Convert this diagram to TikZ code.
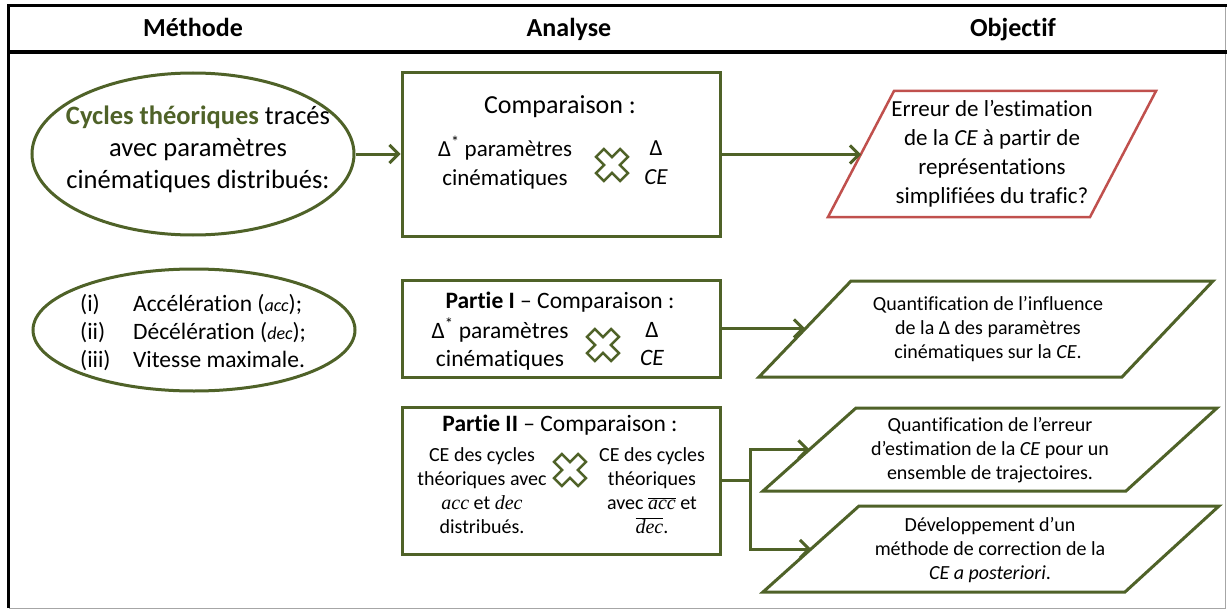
\documentclass[tikz,border=0pt]{standalone}
\usepackage{fontspec}
\setmainfont{Carlito}[Ligatures=NoCommon]
\newfontfamily\mathish{Liberation Serif}
\usetikzlibrary{arrows.meta,shapes.geometric,calc}
\definecolor{olv}{HTML}{4F6228}
\definecolor{redp}{HTML}{C0504D}
\definecolor{frgrey}{HTML}{A6A6A6}
\newcommand{\fsHdr}{\fontsize{26}{30}\selectfont\bfseries}
\newcommand{\fsBig}{\fontsize{26.5}{32}\selectfont}
\newcommand{\fsMid}{\fontsize{26}{30}\selectfont}
\newcommand{\fsReg}{\fontsize{23.5}{28}\selectfont}
\newcommand{\fsSub}{\fontsize{23}{29}\selectfont}
\newcommand{\fsSmall}{\fontsize{20}{24}\selectfont}
\newcommand{\smit}[1]{{\fontsize{18}{20}\selectfont\itshape #1}}
\newcommand{\mvar}[1]{{\mathish\itshape #1}}
\newcommand{\ovl}[1]{\leavevmode\vbox{\hrule height 0.9pt\kern 1.5pt\hbox{#1}}}
\begin{document}
\begin{tikzpicture}[x=1pt,y=-1pt,
  olvline/.style={draw=olv, line width=3pt},
  arr/.style={olvline, -{Straight Barb[length=9pt,width=18pt]}},
  ell/.style={ellipse, draw=olv, line width=3pt, fill=white, minimum width=322pt, inner sep=0pt},
  boxn/.style={rectangle, draw=olv, line width=3pt, fill=white, minimum width=318pt, inner sep=0pt},
  txt/.style={align=center, inner sep=0pt},
  hdr/.style={inner sep=0pt, anchor=base, font=\fsHdr},
  paragreen/.style={draw=olv, line width=3pt, fill=white, line join=miter},
  parared/.style={draw=redp, line width=2.5pt, fill=white, line join=miter},
  xcross/.pic={\draw[draw=olv, line width=2.5pt, fill=white, rotate=45]
     (-5.5,-17) -- (5.5,-17) -- (5.5,-5.5) -- (17,-5.5) -- (17,5.5) -- (5.5,5.5)
     -- (5.5,17) -- (-5.5,17) -- (-5.5,5.5) -- (-17,5.5) -- (-17,-5.5) -- (-5.5,-5.5) -- cycle;}
]
\useasboundingbox (0,0) rectangle (1227,610);
\fill[white] (0,0) rectangle (1227,610);

% frame
\draw[frgrey, line width=1pt] (1225,5.5) -- (1225,608) -- (8.5,608);
\draw[line width=3pt] (8.5,608) -- (8.5,5.5) -- (1227,5.5);
\draw[line width=4pt] (8.5,52.5) -- (1227,52.5);

% headers
\node[hdr] (h1) at (193,37) {Méthode};
\node[hdr] (h2) at (569,37) {Analyse};
\node[hdr] (h3) at (1013,37) {Objectif};

% left ellipses
\node[ell, minimum height=162pt] (e1) at (193,154) {};
\node[txt, font=\fsBig] (e1t) at (198,149) {\textcolor{olv}{\bfseries Cycles théoriques} tracés\\avec paramètres\\cinématiques distribués:};

\node[ell, minimum height=122pt] (e2) at (194,330) {};
\node[txt, font=\fsReg, anchor=west, align=left] (e2t) at (80,333)
 {\makebox[53pt][l]{(i)}Accélération (\smit{acc});\\
  \makebox[53pt][l]{(ii)}Décélération (\smit{dec});\\
  \makebox[53pt][l]{(iii)}Vitesse maximale.};

% analysis boxes
\node[boxn, minimum height=163pt] (b1) at (561,154.5) {};
\node[txt, font=\fsMid] (b1t) at (560,107) {Comparaison :};
\node[txt, font=\fsSub] (b1l) at (505,162.5) {Δ\textsuperscript{*} paramètres\\cinématiques};
\pic at (612,165) {xcross};
\node[txt, font=\fsSub] (b1r) at (656,162.5) {Δ\\\textit{CE}};

\node[boxn, minimum height=97pt] (b2) at (561,328.5) {};
\node[txt, font=\fsReg] (b2t) at (560,302) {\textbf{Partie I} – Comparaison :};
\node[txt, font=\fsReg] (b2l) at (500,344) {Δ\textsuperscript{*} paramètres\\cinématiques};
\pic at (603,345) {xcross};
\node[txt, font=\fsReg] (b2r) at (652,344) {Δ\\\textit{CE}};

\node[boxn, minimum height=147pt] (b3) at (561,480.5) {};
\node[txt, font=\fsReg] (b3t) at (560,425) {\textbf{Partie II} – Comparaison :};
\node[txt, font=\fsSmall] (b3l) at (482,491) {CE des cycles\\théoriques avec\\\mvar{acc} et \mvar{dec}\\distribués.};
\pic at (570,470) {xcross};
\node[txt, font=\fsSmall] (b3r) at (652,491) {CE des cycles\\théoriques\\avec \ovl{\mvar{acc}} et\\\ovl{\mvar{dec}}.};

% objective parallelograms
\draw[parared] (828,217) -- (894,91) -- (1156,91) -- (1090,217) -- cycle;
\coordinate (o1w) at (861,154.5);
\node[txt, font=\fsSub] (o1) at (992,153.5) {Erreur de l’estimation\\de la \textit{CE} à partir de\\représentations\\simplifiées du trafic?};

\draw[paragreen] (759,377) -- (851,281) -- (1213,281) -- (1122,377) -- cycle;
\coordinate (o2w) at (805,328.5);
\node[txt, font=\fsSmall] (o2) at (988,329) {Quantification de l’influence\\de la Δ des paramètres\\cinématiques sur la \textit{CE}.};

\draw[paragreen] (763,491) -- (856,408) -- (1217,408) -- (1126,491) -- cycle;
\coordinate (o3w) at (809.5,449.5);
\node[txt, font=\fsSmall] (o3) at (990,450) {Quantification de l’erreur\\d’estimation de la \textit{CE} pour un\\ensemble de trajectoires.};

\draw[paragreen] (763,592) -- (859,506) -- (1219,506) -- (1125,592) -- cycle;
\coordinate (o4w) at (811,549);
\node[txt, font=\fsSmall] (o4) at (990,550) {Développement d’un\\méthode de correction de la\\\textit{CE a posteriori}.};

% connectors
\draw[arr] (e1.east) -- (e1.east -| b1.west);
\draw[arr] (b1.east) -- (o1w);
\draw[arr] (b2.east) -- (o2w);
\coordinate (j) at (750,480.5);
\draw[olvline] (b3.east) -- (j);
\draw[arr] (j) |- (o3w);
\draw[arr] (j) |- (o4w);
\end{tikzpicture}
\end{document}
